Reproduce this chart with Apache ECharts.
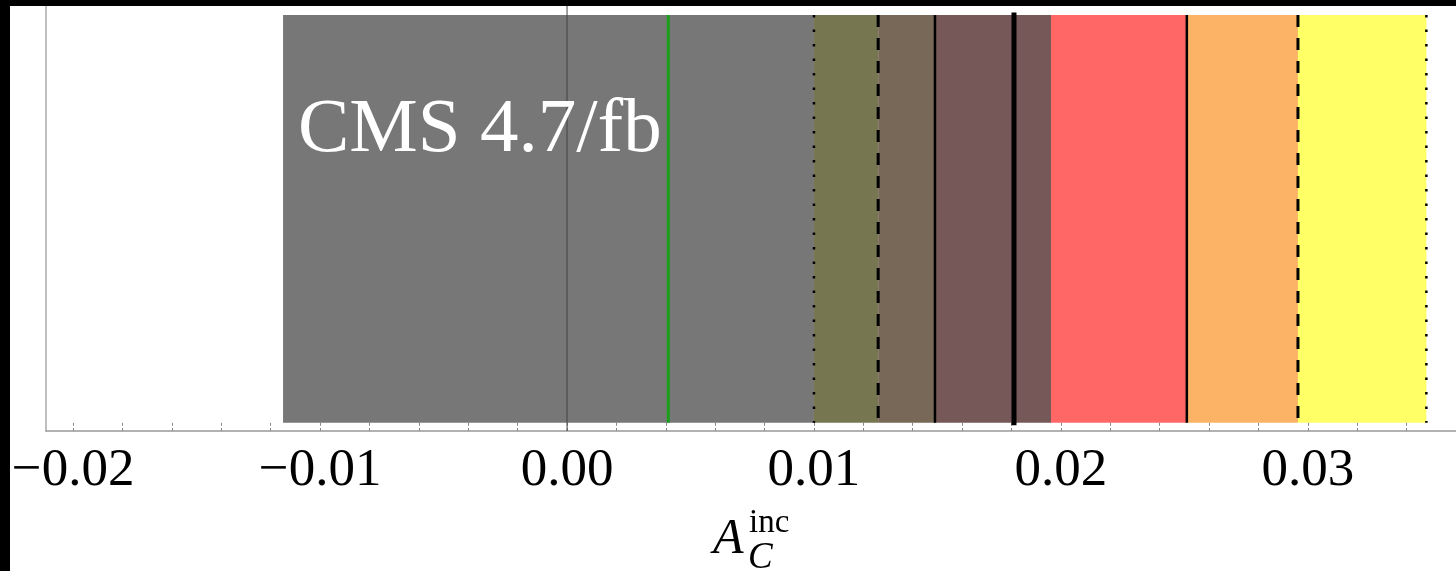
<!DOCTYPE html>
<html>
<head>
<meta charset="utf-8">
<script src="https://cdn.jsdelivr.net/npm/echarts@6/dist/echarts.min.js"></script>
<style>
  html, body { margin: 0; padding: 0; background: #fff; }
  #chart { width: 1456px; height: 571px; }
</style>
</head>
<body>
<div id="chart"></div>
<script>
// band edges on the A_C axis (left -> right)
const bandStarts = [-0.0115, 0.0100, 0.0126, 0.0149, 0.0196, 0.0251, 0.0296];
const bandEnds   = [ 0.0100, 0.0126, 0.0149, 0.0196, 0.0251, 0.0296, 0.0348];
const bandColors = ['#777777', '#767651', '#776858', '#765859', '#ff6666', '#fdb366', '#ffff66'];

// vertical boundary lines
const limitValues = [0.0100, 0.0126, 0.0149, 0.0181, 0.0251, 0.0296, 0.0348];
const limitKinds  = ['dotted', 'dashed', 'solid', 'thick', 'solid', 'dashed', 'dotted'];

// measured central value (green)
const cmsValue = [0.0041];

// ticks and labels
const tickValues = [-0.020, -0.018, -0.016, -0.014, -0.012, -0.010, -0.008, -0.006, -0.004, -0.002,
  0, 0.002, 0.004, 0.006, 0.008, 0.010, 0.012, 0.014, 0.016, 0.018,
  0.020, 0.022, 0.024, 0.026, 0.028, 0.030, 0.032, 0.034];
const labelValues = [-0.02, -0.01, 0, 0.01, 0.02, 0.03];

const kindStyle = {
  dotted: { lineWidth: 2.5, lineDash: [2.5, 12], lineCap: 'butt' },
  dashed: { lineWidth: 3, lineDash: [12, 11], lineCap: 'butt' },
  solid:  { lineWidth: 2.5, lineDash: null, lineCap: 'butt' },
  thick:  { lineWidth: 5, lineDash: null, lineCap: 'square' }
};

function fmt(v) {
  const s = Math.abs(v).toFixed(2);
  return v < 0 ? '\u2212' + s : s;
}

const chart = echarts.init(document.getElementById('chart'));

const tickStyle = { customValues: tickValues, inside: true, length: 3, lineStyle: { color: '#888', width: 1 } };

chart.setOption({
  animation: false,
  backgroundColor: '#fff',
  grid: { left: 46, right: 0, top: 6, bottom: 140, containLabel: false },
  xAxis: [{
    type: 'value',
    min: -0.0211,
    max: 0.036,
    position: 'bottom',
    axisLine: { onZero: false, lineStyle: { color: '#999', width: 1.5 } },
    axisTick: tickStyle,
    axisLabel: {
      customValues: labelValues,
      formatter: fmt,
      fontFamily: 'Liberation Serif',
      fontSize: 53,
      color: '#000',
      margin: 14
    },
    splitLine: { show: false }
  }, {
    type: 'value',
    min: -0.0211,
    max: 0.036,
    position: 'top',
    axisLine: { show: false },
    axisTick: tickStyle,
    axisLabel: { show: false },
    splitLine: { show: false }
  }],
  yAxis: {
    type: 'value',
    min: -0.02,
    max: 1.022,
    axisLine: { show: true, onZero: false, lineStyle: { color: '#aaa', width: 1.5 } },
    axisTick: { show: false },
    axisLabel: { show: false },
    splitLine: { show: false }
  },
  series: [{
    type: 'custom',
    name: 'bands',
    z: 1,
    data: bandStarts.map((s, i) => [s, bandEnds[i]]),
    encode: { x: [0, 1] },
    renderItem: function (params, api) {
      const p0 = api.coord([api.value(0), 1]);
      const p1 = api.coord([api.value(1), 0]);
      return {
        type: 'rect',
        shape: { x: p0[0], y: p0[1], width: p1[0] - p0[0], height: p1[1] - p0[1] },
        style: { fill: bandColors[params.dataIndex] }
      };
    }
  }, {
    type: 'custom',
    name: 'zero',
    z: 2,
    data: [[0]],
    encode: { x: 0 },
    renderItem: function (params, api) {
      const x = api.coord([api.value(0), 0])[0];
      const cs = params.coordSys;
      return {
        type: 'line',
        shape: { x1: x, y1: cs.y, x2: x, y2: cs.y + cs.height },
        style: { stroke: '#444', lineWidth: 1 }
      };
    }
  }, {
    type: 'custom',
    name: 'limits',
    z: 3,
    data: limitValues.map(v => [v]),
    encode: { x: 0 },
    renderItem: function (params, api) {
      const top = api.coord([api.value(0), 1]);
      const bot = api.coord([api.value(0), 0]);
      const k = kindStyle[limitKinds[params.dataIndex]];
      return {
        type: 'line',
        shape: { x1: top[0], y1: top[1], x2: bot[0], y2: bot[1] },
        style: { stroke: '#000', lineWidth: k.lineWidth, lineDash: k.lineDash, lineCap: k.lineCap }
      };
    }
  }, {
    type: 'custom',
    name: 'cms',
    z: 3,
    data: cmsValue.map(v => [v]),
    encode: { x: 0 },
    renderItem: function (params, api) {
      const top = api.coord([api.value(0), 1]);
      const bot = api.coord([api.value(0), 0]);
      return {
        type: 'line',
        shape: { x1: top[0], y1: top[1], x2: bot[0], y2: bot[1] },
        style: { stroke: '#18a018', lineWidth: 3 }
      };
    }
  }],
  graphic: [
    { type: 'rect', left: 0, top: 0, z: 100, shape: { width: 1456, height: 6 }, style: { fill: '#000' } },
    { type: 'rect', left: 0, top: 0, z: 100, shape: { width: 10, height: 571 }, style: { fill: '#000' } },
    {
      type: 'text', left: 298, top: 92, z: 10,
      style: { text: 'CMS 4.7/fb', fill: '#fff', font: '77px "Liberation Serif"' }
    },
    {
      type: 'text', left: 713, top: 515, z: 10,
      style: { text: 'A', fill: '#000', font: 'italic 50px "Liberation Serif"' }
    },
    {
      type: 'text', left: 749, top: 507, z: 10,
      style: { text: 'inc', fill: '#000', font: '33px "Liberation Serif"' }
    },
    {
      type: 'text', left: 748, top: 540, z: 10,
      style: { text: 'C', fill: '#000', font: 'italic 37px "Liberation Serif"' }
    }
  ]
});
</script>
</body>
</html>
